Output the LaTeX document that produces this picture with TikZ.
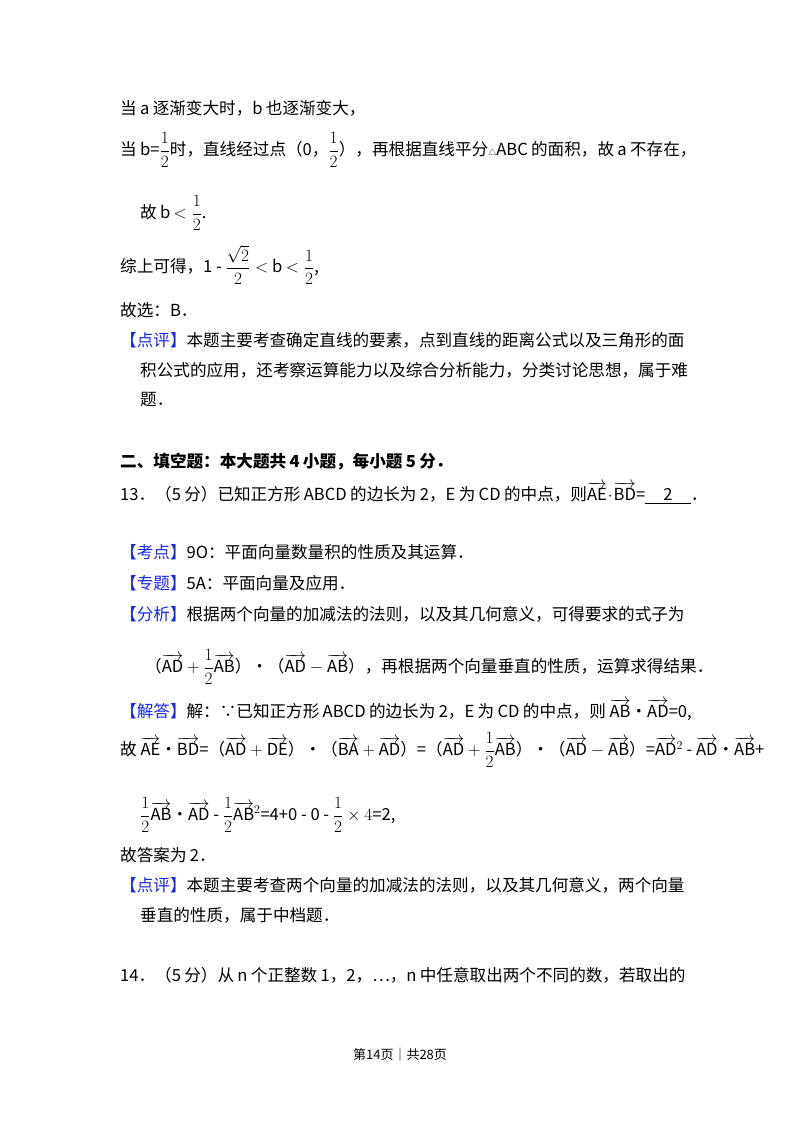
\documentclass[tikz,border=0pt]{standalone}
\usepackage{amsmath}
\usepackage{fontspec}
\setmainfont{Noto Sans CJK SC}
\newcommand\vc[1]{\overrightarrow{\mathrm{#1}}}
\newcommand\hf{\displaystyle\frac{1}{2}}
\definecolor{tagblue}{RGB}{20,40,240}
\newcommand\btag[1]{\textcolor{tagblue}{【#1】}}
\newcommand\s{\hspace{0.2em}}
\begin{document}
\begin{tikzpicture}[x=1pt,y=-1pt,
  ln/.style={anchor=west,inner sep=0pt,font=\fontsize{16.6}{20}\selectfont}]
\useasboundingbox[fill=white] (0,0) rectangle (800,1133);
\node[ln] (l1) at (120,108) {当\s a\s 逐渐变大时，b\s 也逐渐变大，};
\node[ln] (l2) at (120,150) {当\s b=$\hf$时，直线经过点（0，$\hf$），再根据直线平分{\footnotesize △}ABC\s 的面积，故\s a\s 不存在，};
\node[ln] (l3) at (140,213) {故\s b\s$<\hf$.};
\node[ln] (l4) at (120,265) {综上可得，1 - $\displaystyle\frac{\sqrt2}{2}<$ b $<\hf$,};
\node[ln] (l5) at (120,310) {故选：B．};
\node[ln] (l6) at (120,340) {\btag{点评}本题主要考查确定直线的要素，点到直线的距离公式以及三角形的面};
\node[ln] (l7) at (140,370) {积公式的应用，还考察运算能力以及综合分析能力，分类讨论思想，属于难};
\node[ln] (l8) at (140,400) {题．};
\node[ln,font=\fontsize{16.6}{20}\selectfont\bfseries] (l9) at (120,462) {二、填空题：本大题共\s 4\s 小题，每小题\s 5\s 分．};
\node[ln] (l10) at (120,493) {13．（5\s 分）已知正方形\s ABCD\s 的边长为\s 2，E\s 为\s CD\s 的中点，则$\vc{AE}\!\cdot\!\vc{BD}$=\underline{\hspace{1.1em}2\hspace{1.1em}}．};
\node[ln] (l11) at (120,552) {\btag{考点}9O：平面向量数量积的性质及其运算．};
\node[ln] (l12) at (120,583) {\btag{专题}5A：平面向量及应用．};
\node[ln] (l13) at (120,614) {\btag{分析}根据两个向量的加减法的法则，以及其几何意义，可得要求的式子为};
\node[ln] (l14) at (145,667) {（$\vc{AD}+\hf\vc{AB}$）•（$\vc{AD}-\vc{AB}$），再根据两个向量垂直的性质，运算求得结果．};
\node[ln] (l15) at (120,710) {\btag{解答}解：∵已知正方形\s ABCD\s 的边长为\s 2，E\s 为\s CD\s 的中点，则 $\vc{AB}$•$\vc{AD}$=0,};
\node[ln] (l16) at (120,750) {故 $\vc{AE}$•$\vc{BD}$=（$\vc{AD}+\vc{DE}$）•（$\vc{BA}+\vc{AD}$）=（$\vc{AD}+\hf\vc{AB}$）•（$\vc{AD}-\vc{AB}$）=$\vc{AD}^2$ - $\vc{AD}$•$\vc{AB}$+};
\node[ln] (l17) at (140,815) {$\hf\vc{AB}$•$\vc{AD}$ - $\hf\vc{AB}^2$=4+0 - 0 - $\hf\times4$=2,};
\node[ln] (l18) at (120,855) {故答案为\s 2．};
\node[ln] (l19) at (120,885) {\btag{点评}本题主要考查两个向量的加减法的法则，以及其几何意义，两个向量};
\node[ln] (l20) at (140,915) {垂直的性质，属于中档题．};
\node[ln] (l21) at (120,975) {14．（5\s 分）从\s n\s 个正整数\s 1，2，…，n\s 中任意取出两个不同的数，若取出的};
\node[anchor=center,inner sep=0pt,font=\fontsize{13}{16}\selectfont] (ft) at (400,1055) {第14页｜共28页};
\end{tikzpicture}
\end{document}
